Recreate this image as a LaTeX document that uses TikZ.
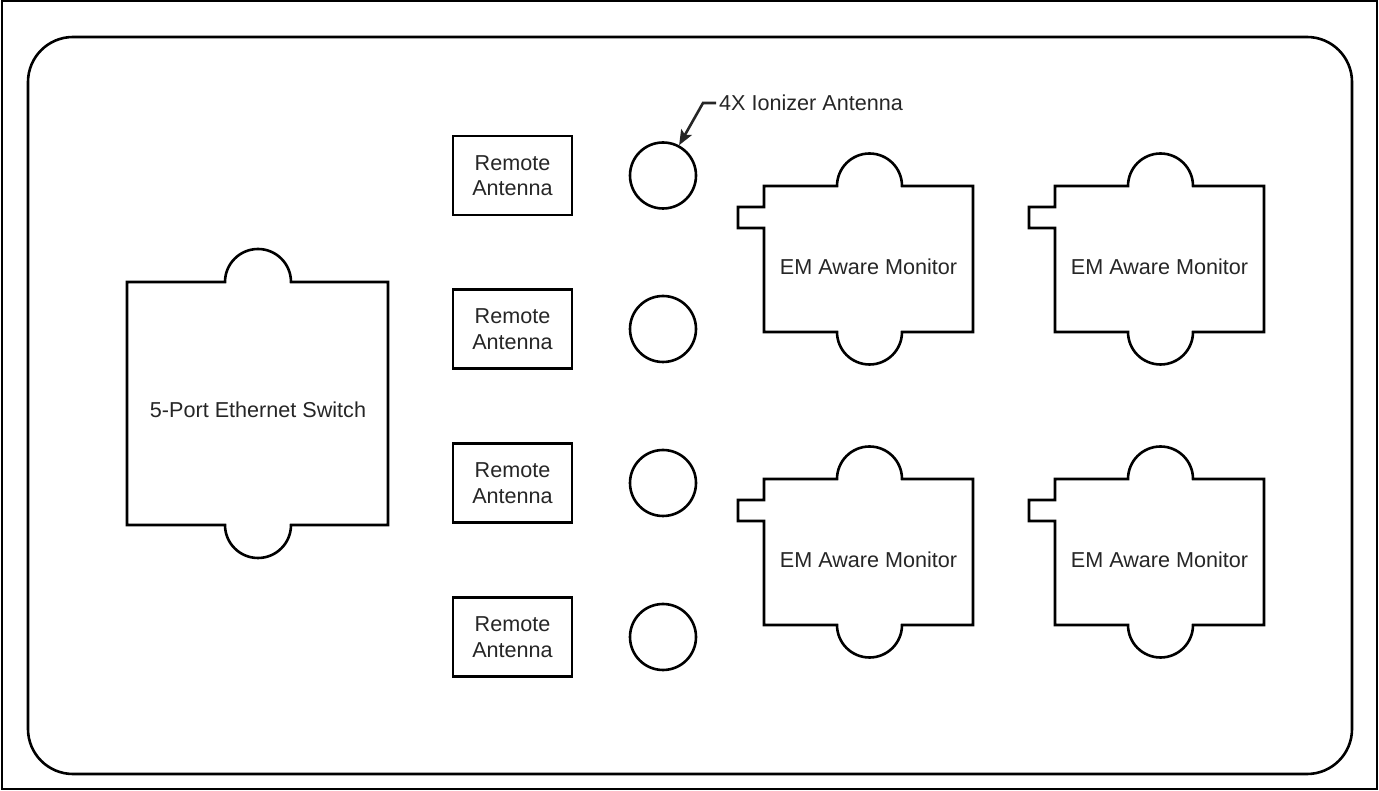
\documentclass[tikz,border=0pt]{standalone}
\usepackage{fontspec}
\setmainfont{Liberation Sans}
\usetikzlibrary{arrows.meta}
\begin{document}
\begin{tikzpicture}[x=1pt,y=1pt,
  outline/.style={draw=black,line width=2.6pt,line join=miter},
  lbltext/.style={font=\fontsize{21.6}{25.5}\selectfont,text=black!85,align=center},
  antbox/.style={outline,minimum width=119pt,minimum height=79pt,inner sep=0pt},
  ionring/.style={outline,circle,minimum size=66pt,inner sep=0pt},
  callout/.style={draw=black!85,line width=2.6pt,-{Stealth[length=15pt,width=12pt,inset=3pt]}},
  pics/monitor/.style={code={
    \draw[outline] (0,0) -- (73,0) arc[start angle=180,end angle=0,radius=32.5]
      -- (209,0) -- (209,-146) -- (138,-146) arc[start angle=0,end angle=-180,radius=32.5]
      -- (0,-146) -- (0,-42) -- (-26,-42) -- (-26,-21) -- (0,-21) -- cycle;
  }}]
\useasboundingbox (0,0) rectangle (1379,790);
% frames
\draw[line width=2.8pt] (2,1) rectangle (1377,789);
\draw[outline,rounded corners=45pt] (28,16) rectangle (1352,753);
% switch
\draw[outline] (127,265) -- (127,508) -- (225,508) arc[start angle=180,end angle=0,radius=33]
  -- (388,508) -- (388,265) -- (291,265) arc[start angle=0,end angle=-180,radius=33] -- cycle;
\node[lbltext] (sw) at (258,380) {5-Port Ethernet Switch};
% remote antennas
\node[antbox,lbltext] (ra1) at (512.5,614.5) {Remote\\Antenna};
\node[antbox,lbltext] (ra2) at (512.5,461) {Remote\\Antenna};
\node[antbox,lbltext] (ra3) at (512.5,307) {Remote\\Antenna};
\node[antbox,lbltext] (ra4) at (512.5,153) {Remote\\Antenna};
% ionizer rings
\node[ionring] (c1) at (663,614.5) {};
\node[ionring] (c2) at (663,461) {};
\node[ionring] (c3) at (663,307) {};
\node[ionring] (c4) at (663,153) {};
% monitors
\pic at (764,604) {monitor};
\pic at (1055,604) {monitor};
\pic at (764,311) {monitor};
\pic at (1055,311) {monitor};
\node[lbltext] (m1) at (868.5,523) {EM Aware Monitor};
\node[lbltext] (m2) at (1159.5,523) {EM Aware Monitor};
\node[lbltext] (m3) at (868.5,230) {EM Aware Monitor};
\node[lbltext] (m4) at (1159.5,230) {EM Aware Monitor};
% callout
\node[lbltext,anchor=west,inner sep=0pt] (lbl) at (719,687) {4X Ionizer Antenna};
\draw[callout] ([xshift=-3pt]lbl.west) -- ++(-13,0) -- (c1.62);
\end{tikzpicture}
\end{document}
